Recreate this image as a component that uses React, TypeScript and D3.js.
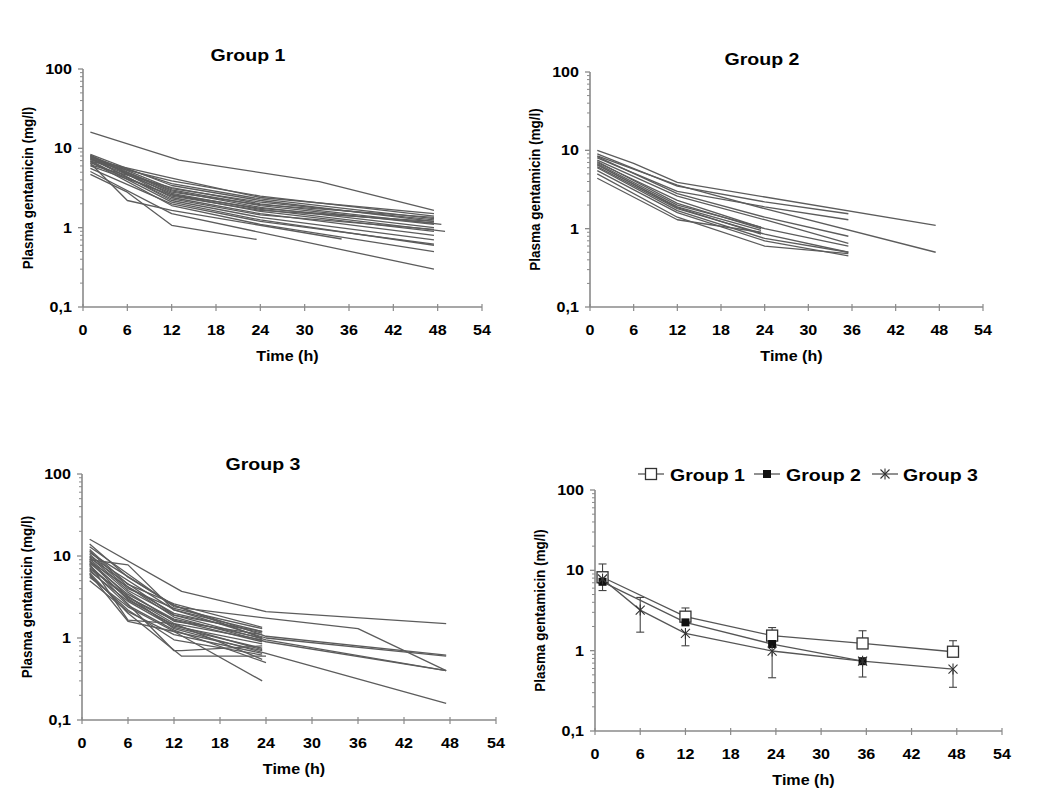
import * as d3 from 'd3';

type Pt = [number, number];

// individual patient curves, [time (h), concentration (mg/l)]
const group1Subjects: Pt[][] = [
  [[1, 16], [13, 7.1], [32, 3.8], [47.5, 1.65]],
  [[1, 4.7], [6, 2.8], [12, 1.07], [23.5, 0.71]],
  [[1, 5.1], [12, 1.5], [47.5, 0.3]],
  [[1, 6.5], [6, 2.2], [12, 1.65], [35, 0.72]],
  [[1, 6.8], [12, 1.9], [24, 1.1], [47.5, 0.5]],
  [[1, 7.0], [12, 2.1], [24, 1.25], [47.5, 0.6]],
  [[1, 7.6], [12, 2.2], [24, 1.35], [47.5, 0.7]],
  [[1, 8.2], [12, 2.4], [24, 1.5], [47.5, 0.8]],
  [[1, 7.9], [12, 2.6], [24, 1.6], [47.5, 0.9]],
  [[1, 7.3], [12, 2.7], [24, 1.7], [49, 0.9]],
  [[1, 8.0], [12, 2.9], [24, 1.8], [47.5, 1.0]],
  [[1, 7.5], [12, 3.0], [24, 1.9], [47.5, 1.1]],
  [[1, 6.2], [12, 3.2], [24, 2.0], [48.5, 1.1]],
  [[1, 8.4], [12, 3.4], [24, 2.2], [47.5, 1.2]],
  [[1, 7.7], [12, 3.6], [24, 2.3], [47.5, 1.3]],
  [[1, 6.9], [12, 3.9], [24, 2.5], [47.5, 1.4]],
  [[1, 7.2], [12, 4.2], [24, 2.4], [47.5, 1.5]],
  [[1, 8.1], [12, 3.1], [24, 2.1], [47.5, 1.25]],
  [[1, 6.6], [12, 2.5], [24, 1.65], [47.5, 1.2]],
  [[1, 7.4], [12, 2.3], [24, 1.45], [47.5, 0.95]],
  [[1, 5.6], [12, 2.0], [24, 1.2], [47.5, 0.62]],
  [[1, 6.0], [12, 2.6], [24, 1.75], [47.5, 1.15]],
  [[1, 7.8], [12, 2.8], [24, 1.95], [47.5, 1.35]],
];

const group2Subjects: Pt[][] = [
  [[1, 10], [6, 6.8], [12, 3.9], [47.5, 1.1]],
  [[1, 9], [12, 3.5], [24, 2.2], [35.5, 1.55]],
  [[1, 8], [12, 3.0], [24, 1.9], [35.5, 1.3]],
  [[1, 8.5], [12, 3.6], [24, 1.8], [47.5, 0.5]],
  [[1, 8.3], [12, 2.8], [24, 1.4], [35.5, 0.8]],
  [[1, 7.5], [12, 2.6], [24, 1.3], [35.5, 0.65]],
  [[1, 7], [12, 2.3], [24, 1.0], [35.5, 0.6]],
  [[1, 6.8], [12, 2.0], [23.5, 1.05]],
  [[1, 6.5], [12, 1.9], [23.5, 0.95]],
  [[1, 6.2], [12, 1.8], [24, 0.85], [35.5, 0.5]],
  [[1, 6], [12, 1.7], [24, 0.75], [35.5, 0.5]],
  [[1, 5.5], [12, 1.6], [24, 0.7], [35.5, 0.45]],
  [[1, 5], [12, 1.4], [24, 0.6], [35.5, 0.48]],
  [[1, 4.4], [12, 1.3], [23.5, 0.9]],
  [[1, 7.2], [12, 2.1], [23.5, 1.0]],
  [[1, 6.6], [12, 1.85], [23.5, 0.85]],
];

const group3Subjects: Pt[][] = [
  [[1, 16], [13, 3.7], [24, 2.1], [47.5, 1.5]],
  [[1, 13], [12, 2.4], [24, 1.75], [36, 1.3], [47.5, 0.4]],
  [[1, 11], [12, 2.5], [24, 1.05], [47.5, 0.62]],
  [[1, 10], [12, 2.2], [24, 1.0], [47.5, 0.6]],
  [[1, 9.5], [12, 1.9], [24, 0.95], [47.5, 0.4]],
  [[1, 8.5], [12, 1.8], [24, 0.9], [47.5, 0.4]],
  [[1, 7], [12, 1.3], [24, 0.65], [47.5, 0.16]],
  [[1, 9], [6, 7.8], [12, 2.2], [23.5, 1.2]],
  [[1, 12], [6, 4.5], [12, 2.6], [23.5, 1.35]],
  [[1, 10.5], [6, 4], [12, 2.3], [23.5, 1.3]],
  [[1, 8], [6, 1.65], [12, 1.5], [23.5, 0.55]],
  [[1, 6], [6, 1.6], [12, 1.2], [23.5, 0.3]],
  [[1, 9.2], [6, 3.6], [12, 1.6], [23.5, 1.1]],
  [[1, 8.8], [6, 3.2], [12, 1.5], [23.5, 0.95]],
  [[1, 7.5], [6, 3.0], [12, 1.4], [23.5, 0.85]],
  [[1, 6.5], [6, 2.8], [12, 1.35], [23.5, 0.75]],
  [[1, 5.5], [6, 2.4], [12, 1.2], [23.5, 0.7]],
  [[1, 5], [6, 2.1], [12, 1.1], [23.5, 0.65]],
  [[1, 7.8], [6, 2.6], [12, 0.7], [13, 0.7], [23.5, 0.8]],
  [[1, 6.2], [6, 2.0], [13, 0.6], [24, 0.6]],
  [[1, 8.2], [6, 3.4], [12, 1.7], [23.5, 1.0]],
  [[1, 9.8], [6, 3.8], [12, 1.9], [23.5, 1.2]],
  [[1, 7.2], [6, 3.1], [12, 1.65], [23.5, 0.9]],
  [[1, 6.8], [6, 2.5], [12, 1.25], [24, 0.5]],
  [[1, 11.5], [6, 4.2], [12, 2.0], [23.5, 1.15]],
  [[1, 8.6], [6, 2.9], [12, 1.45], [23.5, 0.72]],
  [[1, 5.8], [6, 2.2], [12, 0.95], [23.5, 0.62]],
  [[1, 14], [6, 5.5], [12, 2.5], [23.5, 1.0]],
];

// summary panel (mean values and error bar ends)
const sampleTimes = [1, 6, 12, 23.5, 35.5, 47.5];
const group1Mean = [8.2, null, 2.65, 1.54, 1.23, 0.97];
const group2Mean = [7.2, null, 2.25, 1.21, 0.74, null];
const group3Mean = [7.8, 3.2, 1.64, 0.99, 0.74, 0.59];
const group1ErrHigh = [12, null, 3.4, 1.94, 1.77, 1.33];
const group3ErrHigh = [null, 4.6, null, null, null, null];
const group3ErrLow = [5.6, 1.7, 1.15, 0.46, 0.47, 0.35];

const timeTicks = [0, 6, 12, 18, 24, 30, 36, 42, 48, 54];
const concTicks = [0.1, 1, 10, 100];
const concTickLabels = ['0,1', '1', '10', '100'];
const legendLabels = ['Group 1', 'Group 2', 'Group 3'];

const FONT = "'Liberation Sans', Arial, Helvetica, sans-serif";
const SX = 1.15; // the source figure is a bit stretched horizontally
const AXIS = '#8a8a8a';
const LINE = '#5c5c5c';

interface Frame { left: number; right: number; top: number; bottom: number }

function Txt({ x, y, size, anchor = 'middle', rotate = false, children }:
  { x: number; y: number; size: number; anchor?: string; rotate?: boolean; children: any }) {
  return (
    <text
      transform={`translate(${x},${y}) scale(${SX},1)${rotate ? ' rotate(-90)' : ''}`}
      fontSize={size} fontWeight="bold" fontFamily={FONT} fill="#000" textAnchor={anchor}>
      {children}
    </text>
  );
}

function makeScales(f: Frame) {
  const x = d3.scaleLinear().domain([0, 54]).range([f.left, f.right]);
  const y = d3.scaleLog().domain([0.1, 100]).range([f.bottom, f.top]);
  return { x, y };
}

function Axes({ f, title, titleX, titleY }: { f: Frame; title?: string; titleX?: number; titleY?: number }) {
  const { x, y } = makeScales(f);
  const minor: number[] = [];
  [0.1, 1, 10].forEach(d => { for (let k = 2; k <= 9; k++) minor.push(d * k); });
  return (
    <g>
      <line x1={f.left} x2={f.left} y1={f.top} y2={f.bottom} stroke={AXIS} strokeWidth={1.6} />
      <line x1={f.left} x2={f.right} y1={f.bottom} y2={f.bottom} stroke={AXIS} strokeWidth={1.6} />
      {minor.map(v => (
        <line key={'m' + v} x1={f.left - 3} x2={f.left} y1={y(v)} y2={y(v)} stroke={AXIS} strokeWidth={1} />
      ))}
      {concTicks.map((v, i) => (
        <g key={'y' + v}>
          <line x1={f.left - 5} x2={f.left} y1={y(v)} y2={y(v)} stroke={AXIS} strokeWidth={1.3} />
          <Txt x={f.left - 11} y={y(v) + 5} size={14} anchor="end">{concTickLabels[i]}</Txt>
        </g>
      ))}
      {timeTicks.map(t => (
        <g key={'x' + t}>
          <line x1={x(t)} x2={x(t)} y1={f.bottom - 3} y2={f.bottom + 4} stroke={AXIS} strokeWidth={1.2} />
          <Txt x={x(t)} y={f.bottom + 28} size={14}>{t}</Txt>
        </g>
      ))}
      <Txt x={(f.left + f.right) / 2 + 5} y={f.bottom + 54} size={14}>Time (h)</Txt>
      <Txt x={f.left - 50} y={(f.top + f.bottom) / 2} size={13.5} rotate>Plasma gentamicin (mg/l)</Txt>
      {title && <Txt x={titleX!} y={titleY!} size={17}>{title}</Txt>}
    </g>
  );
}

function SubjectPanel({ f, subjects, title, titleX, titleY }:
  { f: Frame; subjects: Pt[][]; title: string; titleX: number; titleY: number }) {
  const { x, y } = makeScales(f);
  const line = d3.line<Pt>().x(d => x(d[0])).y(d => y(d[1]));
  return (
    <g>
      <Axes f={f} title={title} titleX={titleX} titleY={titleY} />
      {subjects.map((s, i) => (
        <path key={i} d={line(s) || ''} fill="none" stroke={LINE} strokeWidth={1.3} strokeLinejoin="round" />
      ))}
    </g>
  );
}

function Marker({ kind, cx, cy }: { kind: number; cx: number; cy: number }) {
  if (kind === 0) return <rect x={cx - 5.5} y={cy - 5.5} width={11} height={11} fill="#fff" stroke="#333" strokeWidth={1.3} />;
  if (kind === 1) return <rect x={cx - 4} y={cy - 4} width={8} height={8} fill="#111" />;
  const r = 4.5;
  return (
    <g stroke="#333" strokeWidth={1.1}>
      <line x1={cx - r} x2={cx + r} y1={cy - r} y2={cy + r} />
      <line x1={cx - r} x2={cx + r} y1={cy + r} y2={cy - r} />
      <line x1={cx} x2={cx} y1={cy - r - 1} y2={cy + r + 1} />
    </g>
  );
}

function SummaryPanel({ f }: { f: Frame }) {
  const { x, y } = makeScales(f);
  const means = [group1Mean, group2Mean, group3Mean];
  const line = d3.line<[number, number | null]>()
    .defined(d => d[1] != null)
    .x(d => x(d[0]))
    .y(d => y(d[1] as number));
  const bars: { t: number; from: number; to: number }[] = [];
  sampleTimes.forEach((t, i) => {
    if (group1ErrHigh[i] != null && group1Mean[i] != null) bars.push({ t, from: group1Mean[i]!, to: group1ErrHigh[i]! });
    if (group3ErrHigh[i] != null) bars.push({ t, from: group3Mean[i], to: group3ErrHigh[i]! });
    if (group3ErrLow[i] != null) bars.push({ t, from: group3Mean[i], to: group3ErrLow[i]! });
  });
  const legendY = 474;
  const legendItems = [
    { x1: 638, text: 670 },
    { x1: 754, text: 786 },
    { x1: 872, text: 903 },
  ];
  return (
    <g>
      <Axes f={f} />
      {bars.map((b, i) => (
        <g key={'e' + i} stroke="#444" strokeWidth={1.1}>
          <line x1={x(b.t)} x2={x(b.t)} y1={y(b.from)} y2={y(b.to)} />
          <line x1={x(b.t) - 4} x2={x(b.t) + 4} y1={y(b.to)} y2={y(b.to)} />
        </g>
      ))}
      {means.map((m, gi) => (
        <path key={'l' + gi}
          d={line(sampleTimes.map((t, i) => [t, m[i]] as [number, number | null]).filter(d => d[1] != null)) || ''}
          fill="none" stroke="#555" strokeWidth={1.3} />
      ))}
      {means.map((m, gi) => sampleTimes.map((t, i) => m[i] == null ? null :
        <Marker key={gi + '-' + i} kind={gi} cx={x(t)} cy={y(m[i] as number)} />))}
      {legendItems.map((it, i) => (
        <g key={'lg' + i}>
          <line x1={it.x1} x2={it.x1 + 26} y1={legendY} y2={legendY} stroke="#555" strokeWidth={1.3} />
          <Marker kind={i} cx={it.x1 + 13} cy={legendY} />
          <Txt x={it.text} y={legendY + 7} size={17} anchor="start">{legendLabels[i]}</Txt>
        </g>
      ))}
    </g>
  );
}

export default function App() {
  const f1: Frame = { left: 83, right: 482, top: 69, bottom: 307 };
  const f2: Frame = { left: 590, right: 983, top: 72, bottom: 307 };
  const f3: Frame = { left: 82, right: 496, top: 474, bottom: 720 };
  const f4: Frame = { left: 595, right: 1002, top: 490, bottom: 731 };
  return (
    <svg width={1046} height={800} style={{ position: 'absolute', left: 0, top: 0, background: '#fff' }}>
      <rect width={1046} height={800} fill="#fff" />
      <SubjectPanel f={f1} subjects={group1Subjects} title="Group 1" titleX={248} titleY={61} />
      <SubjectPanel f={f2} subjects={group2Subjects} title="Group 2" titleX={762} titleY={65} />
      <SubjectPanel f={f3} subjects={group3Subjects} title="Group 3" titleX={263} titleY={470} />
      <SummaryPanel f={f4} />
    </svg>
  );
}
